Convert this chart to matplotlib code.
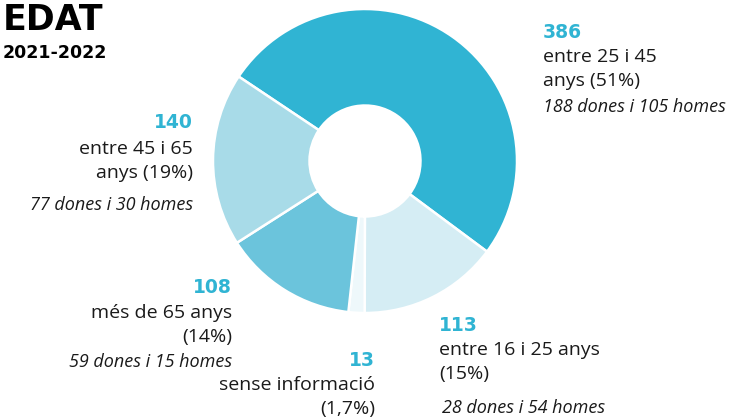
import matplotlib.pyplot as plt

plt.rcParams['font.family'] = ['Open Sans', 'DejaVu Sans']

# dades
valors = [386, 113, 13, 108, 140]
colors = ['#30b4d3', '#d5edf4', '#eef8fb', '#6bc4dc', '#a8dbe8']
xifres = ['386', '113', '13', '108', '140']
etiquetes = ['entre 25 i 45\nanys (51%)', 'entre 16 i 25 anys\n(15%)',
             'sense informació\n(1,7%)', 'més de 65 anys\n(14%)',
             'entre 45 i 65\nanys (19%)']
sexe = ['188 dones i 105 homes', '28 dones i 54 homes', '',
        '59 dones i 15 homes', '77 dones i 30 homes']

W, H = 733, 419
fig = plt.figure(figsize=(W / 100, H / 100), dpi=100)

def fx(px):
    return px / W

def fy(py):
    return 1 - py / H

# donut: centre (365,161), radi 152 px
cx, cy, r = 365, 161, 152
ax = fig.add_axes([fx(cx - r), fy(cy + r), 2 * r / W, 2 * r / H])
total = sum(valors)
start = -36.6 + valors[0] / total * 360
ax.pie(valors, colors=colors, startangle=start, counterclock=False,
       wedgeprops=dict(width=0.635, edgecolor='white', linewidth=1.8))
ax.set_xlim(-1, 1)
ax.set_ylim(-1, 1)
ax.axis('off')

# títol
fig.text(fx(3), fy(20), 'EDAT', fontsize=25, fontweight='bold', family='DejaVu Sans',
         va='center', ha='left')
fig.text(fx(3), fy(53), '2021-2022', fontsize=12.5, fontweight='bold', family='DejaVu Sans',
         va='center', ha='left')

blau = '#30b4d3'
fs = 14

# posicions de les etiquetes (px): x, ha, y xifra, y línies, y italica
pos = [
    (543, 'left', 33, 57, 107, 543),
    (439, 'left', 325, 350, 408, 442),
    (375, 'right', 360, 385, None, 375),
    (232, 'right', 287, 313, 362, 232),
    (193, 'right', 123, 149, 205, 193),
]

for i, (x, ha, yn, yl, yi, xi) in enumerate(pos):
    fig.text(fx(x), fy(yn), xifres[i], fontsize=13.5, fontweight='bold', color=blau,
             family='DejaVu Sans', ha=ha, va='center')
    linies = etiquetes[i].split('\n')
    for k, t in enumerate(linies):
        fig.text(fx(x), fy(yl + k * 24), t, fontsize=fs, color='#1a1a1a',
                 ha=ha, va='center')
    if yi is not None:
        fig.text(fx(xi), fy(yi), sexe[i], fontsize=13, style='italic',
                 color='#1a1a1a', ha=ha, va='center')

fig.savefig('out.png', dpi=100)
